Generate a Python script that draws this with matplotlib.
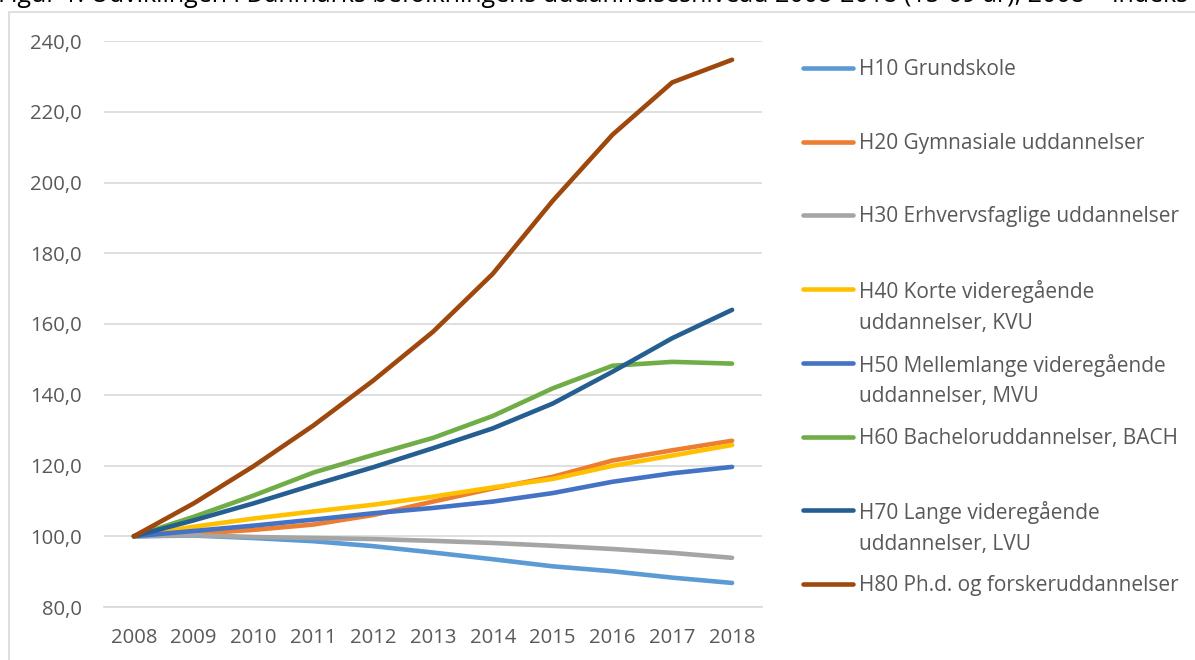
import matplotlib
matplotlib.use("Agg")
import matplotlib.pyplot as plt
from matplotlib.lines import Line2D
from matplotlib.patches import Rectangle

years = [2008, 2009, 2010, 2011, 2012, 2013, 2014, 2015, 2016, 2017, 2018]

labels = ['H10 Grundskole',
          'H20 Gymnasiale uddannelser',
          'H30 Erhvervsfaglige uddannelser',
          'H40 Korte videregående\nuddannelser, KVU',
          'H50 Mellemlange videregående\nuddannelser, MVU',
          'H60 Bacheloruddannelser, BACH',
          'H70 Lange videregående\nuddannelser, LVU',
          'H80 Ph.d. og forskeruddannelser']

h10 = [100, 100.2, 99.5, 98.6, 97.2, 95.4, 93.5, 91.5, 90.1, 88.3, 86.8]
h20 = [100, 100.7, 101.8, 103.3, 106.0, 109.8, 113.5, 116.8, 121.4, 124.3, 127.0]
h30 = [100, 100.3, 99.8, 99.5, 99.2, 98.7, 98.1, 97.3, 96.4, 95.3, 93.9]
h40 = [100, 102.7, 105.0, 107.0, 108.9, 111.2, 113.8, 116.2, 119.9, 122.8, 125.8]
h50 = [100, 101.5, 103.0, 104.7, 106.5, 108.0, 109.8, 112.2, 115.4, 117.8, 119.6]
h60 = [100, 105.5, 111.5, 118.0, 123.0, 127.8, 134.0, 141.8, 148.2, 149.3, 148.8]
h70 = [100, 104.5, 109.3, 114.5, 119.5, 124.9, 130.5, 137.5, 146.5, 156.0, 164.0]
h80 = [100, 109.3, 119.8, 131.3, 144.0, 157.8, 174.2, 194.8, 213.5, 228.3, 234.7]

series = [h10, h20, h30, h40, h50, h60, h70, h80]
colors = ['#5B9BD5', '#ED7D31', '#A5A5A5', '#FFC000',
          '#4472C4', '#70AD47', '#255E91', '#9E480E']

plt.rcParams['font.family'] = ['Open Sans', 'DejaVu Sans']
W, H = 1195, 660
fig = plt.figure(figsize=(W / 100, H / 100), dpi=100)

# chart frame
fig.patches.append(Rectangle((9 / W, -0.1), 1.2, 1 - 12 / H + 0.1,
                             transform=fig.transFigure, fill=False,
                             edgecolor='#D9D9D9', linewidth=1.2))

fig.text(-2 / W, 1 - 2 / H,
         'Figur 1. Udviklingen i Danmarks befolkningens uddannelsesniveau '
         '2008-2018 (15-69 år), 2008 = indeks 100',
         fontsize=18, color='black', va='baseline', ha='left')

ax = fig.add_axes([104 / W, 1 - 607 / H, (762 - 104) / W, (607 - 41) / H])
for vals, c in zip(series, colors):
    ax.plot(years, vals, color=c, linewidth=3.3, solid_capstyle='round',
            solid_joinstyle='round')

ax.set_xlim(2007.5, 2018.5)
ax.set_ylim(80, 240)
ax.set_yticks(range(80, 241, 20))
ax.set_yticklabels([f'{v},0' for v in range(80, 241, 20)])
ax.set_xticks(years)
ax.grid(axis='y', color='#D9D9D9', linewidth=1.2)
ax.set_axisbelow(True)
for s in ['top', 'right', 'left']:
    ax.spines[s].set_visible(False)
ax.spines['bottom'].set_color('#D9D9D9')
ax.spines['bottom'].set_linewidth(1.2)
ax.tick_params(length=0, labelsize=14.6, colors='#595959')
ax.tick_params(axis='y', pad=16)
ax.tick_params(axis='x', pad=15)

# legend
y0, y1 = 68, 584
step = (y1 - y0) / (len(labels) - 1)
for i, (lab, c) in enumerate(zip(labels, colors)):
    yy = 1 - (y0 + i * step) / H
    fig.add_artist(Line2D([803 / W, 853 / W], [yy, yy], transform=fig.transFigure,
                          color=c, linewidth=3.3, solid_capstyle='round'))
    fig.text(859 / W, yy + 9 / H, lab, fontsize=15, color='#595959', va='top',
             ha='left', linespacing=1.6, transform=fig.transFigure)

fig.savefig('out.png', dpi=100)
